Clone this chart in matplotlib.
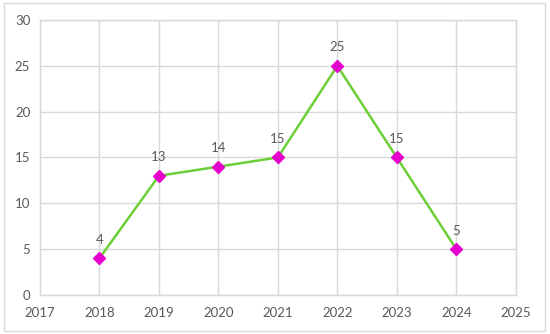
import matplotlib
matplotlib.use("Agg")
import matplotlib.pyplot as plt
from matplotlib.patches import Rectangle

years = [2018, 2019, 2020, 2021, 2022, 2023, 2024]
values = [4, 13, 14, 15, 25, 15, 5]
x_ticks = [2017, 2018, 2019, 2020, 2021, 2022, 2023, 2024, 2025]
y_ticks = [0, 5, 10, 15, 20, 25, 30]

plt.rcParams['font.family'] = ['Lato', 'DejaVu Sans']
txt = '#595959'
grid = '#d9d9d9'

fig = plt.figure(figsize=(5.5, 3.34), dpi=100)
ax = fig.add_axes([0.0727, 0.117, 0.865, 0.823])
fig.patches.append(Rectangle((4/550, 1 - 331/334), 541/550, 328/334, transform=fig.transFigure,
                             fill=False, edgecolor='#d9d9d9', linewidth=1))

ax.plot(years, values, color='#6ccf38', linewidth=1.8, zorder=3)
ax.plot(years, values, linestyle='none', marker='D', markersize=6.5,
        color='#e600cc', zorder=4)
for x, v in zip(years, values):
    ax.annotate(str(v), (x, v), xytext=(0, 9), textcoords='offset points',
                ha='center', va='bottom', fontsize=9.5, color=txt)

ax.set_xlim(2017, 2025)
ax.set_ylim(0, 30)
ax.set_xticks(x_ticks)
ax.set_yticks(y_ticks)
ax.grid(True, color=grid, linewidth=1)
ax.set_axisbelow(True)
for s in ax.spines.values():
    s.set_color(grid)
    s.set_linewidth(1)
ax.tick_params(length=0, colors=txt, labelsize=9.5)
ax.tick_params(axis='x', pad=9)
ax.tick_params(axis='y', pad=7)

fig.savefig('out.png', dpi=100)
